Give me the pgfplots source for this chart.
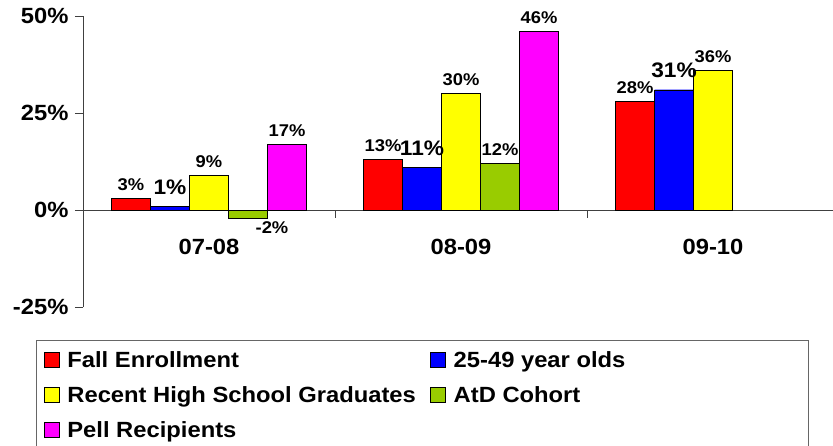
\documentclass[border=0pt]{standalone}
\usepackage{fontspec}
\setmainfont{Liberation Sans}[FakeStretch=1.08]
\usepackage{pgfplots}
\pgfplotsset{compat=1.18}
\definecolor{cRed}{RGB}{255,0,0}
\definecolor{cBlue}{RGB}{0,0,255}
\definecolor{cYellow}{RGB}{255,255,0}
\definecolor{cGreen}{RGB}{153,204,0}
\definecolor{cMagenta}{RGB}{255,0,255}
\newcommand{\lblfont}{\fontsize{17}{20}\selectfont\bfseries}
\newcommand{\bluefont}{\fontsize{21}{24}\selectfont\bfseries}
\newcommand{\bigfont}{\fontsize{22}{26}\selectfont\bfseries}
\begin{document}
\begin{tikzpicture}
\begin{axis}[
  at={(0,0)}, anchor=south west,
  scale only axis, width=756pt, height=291pt,
  xmin=-0.5, xmax=2.5, ymin=-25, ymax=50,
  ybar=0pt, bar width=39pt,
  axis y line=left, axis x line=middle,
  axis line style={-, black!75},
  hide obscured x ticks=false, hide obscured y ticks=false,
  ytick={-25,0,25,50}, yticklabels={-25\%,0\%,25\%,50\%},
  ytick style={black!75}, tick align=outside, major tick length=8pt,
  xtick={0,1,2}, xticklabels={07-08,08-09,09-10}, xtick style={draw=none},
  tick label style={font=\bigfont},
  yticklabel style={xshift=-3pt},
  xticklabel style={yshift=-18pt},
  clip=false,
  nodes near coords={\pgfmathprintnumber[assume math mode=true]{\pgfplotspointmeta}\%},
  every node near coord/.append style={font=\lblfont, yshift=4pt},
  legend columns=2, legend cell align=left,
  legend style={draw=none, fill=none, at={(-0.0516,-0.1526)}, anchor=north west,
    inner sep=0pt, outer sep=0pt, column sep=8pt, row sep=14pt,
    /tikz/column 2/.style={column sep=14.4pt},
    nodes={inner sep=0pt, text height=16pt, text depth=5pt, font=\bigfont}},
  legend image code/.code={\draw[#1, draw=black] (0pt,-5pt) rectangle (15pt,10pt);},
]
\addplot[fill=cRed, draw=black] coordinates {(0,3) (1,13) (2,28)};
\addplot[fill=cBlue, draw=black, nodes near coords style={font=\bluefont, yshift=4pt}] coordinates {(0,1) (1,11) (2,31)};
\addplot[fill=cYellow, draw=black] coordinates {(0,9) (1,30) (2,36)};
\addplot[fill=cGreen, draw=black, visualization depends on={rawy \as \ry},
  nodes near coords style={xshift={ifthenelse(\ry<0,24,0)}, yshift={ifthenelse(\ry<0,-4,0)}}] coordinates {(0,-2) (1,12)};
\addplot[fill=cMagenta, draw=black] coordinates {(0,17) (1,46)};
\legend{Fall Enrollment, 25-49 year olds, Recent High School Graduates, AtD Cohort, Pell Recipients}
\draw[black!75] (axis cs:0.5,0) -- ([yshift=-8pt]axis cs:0.5,0);
\draw[black!75] (axis cs:1.5,0) -- ([yshift=-8pt]axis cs:1.5,0);
\draw[black!75] (axis cs:-0.5,0) -- ([yshift=-8pt]axis cs:-0.5,0);
\end{axis}
\draw[black!60] (-47pt,-33pt) rectangle (725pt,-160pt);
\pgfresetboundingbox
\path[use as bounding box] (-83pt,-138pt) rectangle (750pt,307pt);
\end{tikzpicture}
\end{document}
